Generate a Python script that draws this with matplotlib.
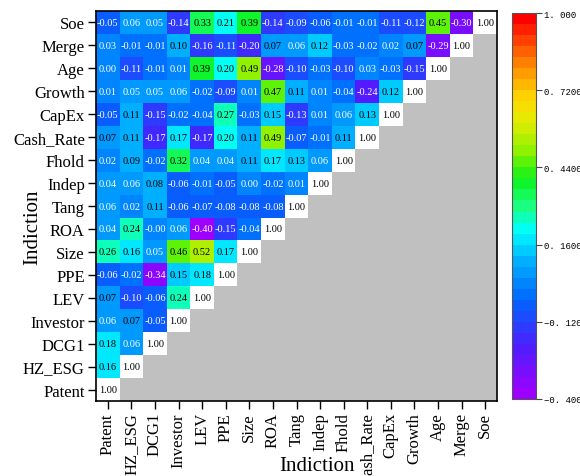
import numpy as np
import matplotlib
matplotlib.use("Agg")
import matplotlib.pyplot as plt
from matplotlib.colors import LinearSegmentedColormap, Normalize, ListedColormap

variables = ["Patent", "HZ_ESG", "DCG1", "Investor", "LEV", "PPE", "Size", "ROA",
             "Tang", "Indep", "Fhold", "Cash_Rate", "CapEx", "Growth", "Age", "Merge", "Soe"]

# correlation rows (lower triangle), columns ordered as `variables`
r_patent = [1.00]
r_hz_esg = [0.16, 1.00]
r_dcg1 = [0.18, 0.06, 1.00]
r_investor = [0.06, 0.07, -0.05, 1.00]
r_lev = [0.07, -0.10, -0.06, 0.24, 1.00]
r_ppe = [-0.06, -0.02, -0.34, 0.15, 0.18, 1.00]
r_size = [0.26, 0.16, 0.05, 0.46, 0.52, 0.17, 1.00]
r_roa = [0.04, 0.24, -0.00, 0.06, -0.40, -0.15, -0.04, 1.00]
r_tang = [0.06, 0.02, 0.11, -0.06, -0.07, -0.08, -0.08, -0.08, 1.00]
r_indep = [0.04, 0.06, 0.08, -0.06, -0.01, -0.05, 0.00, -0.02, 0.01, 1.00]
r_fhold = [0.02, 0.09, -0.02, 0.32, 0.04, 0.04, 0.11, 0.17, 0.13, 0.06, 1.00]
r_cash = [0.07, 0.11, -0.17, 0.17, -0.17, 0.20, 0.11, 0.49, -0.07, -0.01, 0.11, 1.00]
r_capex = [-0.05, 0.11, -0.15, -0.02, -0.04, 0.27, -0.03, 0.15, -0.13, 0.01, 0.06, 0.13, 1.00]
r_growth = [0.01, 0.05, 0.05, 0.06, -0.02, -0.09, 0.01, 0.47, 0.11, 0.01, -0.04, -0.24, 0.12, 1.00]
r_age = [0.00, -0.11, -0.01, 0.01, 0.39, 0.20, 0.49, -0.28, -0.10, -0.03, -0.10, 0.03, -0.03, -0.15, 1.00]
r_merge = [0.03, -0.01, -0.01, 0.10, -0.16, -0.11, -0.20, 0.07, 0.06, 0.12, -0.03, -0.02, 0.02, 0.07, -0.29, 1.00]
r_soe = [-0.05, 0.06, 0.05, -0.14, 0.33, 0.21, 0.39, -0.14, -0.09, -0.06, -0.01, -0.01, -0.11, -0.12, 0.45, -0.30, 1.00]

rows = [r_patent, r_hz_esg, r_dcg1, r_investor, r_lev, r_ppe, r_size, r_roa, r_tang,
        r_indep, r_fhold, r_cash, r_capex, r_growth, r_age, r_merge, r_soe]

cbar_ticks = [-0.40, -0.12, 0.16, 0.44, 0.72, 1.00]
cbar_labels = ["\u22120. 4000", "\u22120. 1200", "0. 1600", "0. 4400", "0. 7200", "1. 000"]

n = len(variables)
M = np.full((n, n), np.nan)
for i, r in enumerate(rows):
    M[i, :len(r)] = r

vmin, vmax = -0.4, 1.0
nodes = [(-0.40, (0.62, 0.0, 1.0)), (-0.22, (0.30, 0.12, 1.0)), (-0.05, (0.0, 0.40, 1.0)),
         (0.10, (0.0, 0.70, 1.0)), (0.21, (0.0, 1.0, 1.0)), (0.30, (0.1, 1.0, 0.5)),
         (0.40, (0.05, 0.95, 0.1)), (0.50, (0.55, 0.95, 0.0)), (0.62, (0.9, 0.92, 0.0)),
         (0.70, (1.0, 0.85, 0.0)), (0.82, (1.0, 0.55, 0.0)), (1.00, (1.0, 0.0, 0.0))]
cmap = LinearSegmentedColormap.from_list(
    "orig", [((v - vmin) / (vmax - vmin), c) for v, c in nodes], N=35)
norm = Normalize(vmin, vmax)

fig = plt.figure(figsize=(5.8, 4.77), dpi=100)
ax = fig.add_axes([96 / 580, 75 / 477, 401 / 580, 390 / 477])
ax.set_facecolor("#c0c0c0")

off = M.copy()
np.fill_diagonal(off, np.nan)
im = ax.imshow(np.ma.masked_invalid(off), cmap=cmap, norm=norm, origin="lower",
               aspect="auto", interpolation="nearest")
diag = np.full((n, n), np.nan)
np.fill_diagonal(diag, 1.0)
ax.imshow(np.ma.masked_invalid(diag), cmap=ListedColormap(["white"]), origin="lower",
          aspect="auto", interpolation="nearest")
ax.set_xlim(-0.5, n - 0.5)
ax.set_ylim(-0.5, n - 0.5)

for i, r in enumerate(rows):
    for j, v in enumerate(r):
        col = "black" if (i == j or v >= 0.065) else "white"
        ax.text(j, i, f"{v:.2f}", ha="center", va="center", fontsize=7.5,
                family="Liberation Serif", color=col)

ax.set_xticks(range(n))
ax.set_yticks(range(n))
ax.set_xticklabels(variables, rotation=90, fontsize=12, family="Liberation Serif")
ax.set_yticklabels(variables, fontsize=12, family="Liberation Serif")
ax.tick_params(direction="out", length=6, width=1.0, color="black", pad=2)
for s in ax.spines.values():
    s.set_linewidth(1.2)

ax.set_xlabel("Indiction", fontsize=15, family="Liberation Serif")
ax.set_ylabel("Indiction", fontsize=15, family="Liberation Serif")
ax.xaxis.set_label_coords(0.551, -0.14)
ax.yaxis.set_label_coords(-0.135, 0.449)

cax = fig.add_axes([512 / 580, 77 / 477, 24 / 580, 386 / 477])
cb = fig.colorbar(im, cax=cax, ticks=cbar_ticks)
cb.ax.set_yticklabels(cbar_labels, fontsize=6.5, family="Liberation Mono")
cb.ax.tick_params(length=4, width=0.8, color="#444444", pad=2)
cb.outline.set_linewidth(0.8)
cb.outline.set_edgecolor("#555555")

fig.savefig("out.png", dpi=100)
